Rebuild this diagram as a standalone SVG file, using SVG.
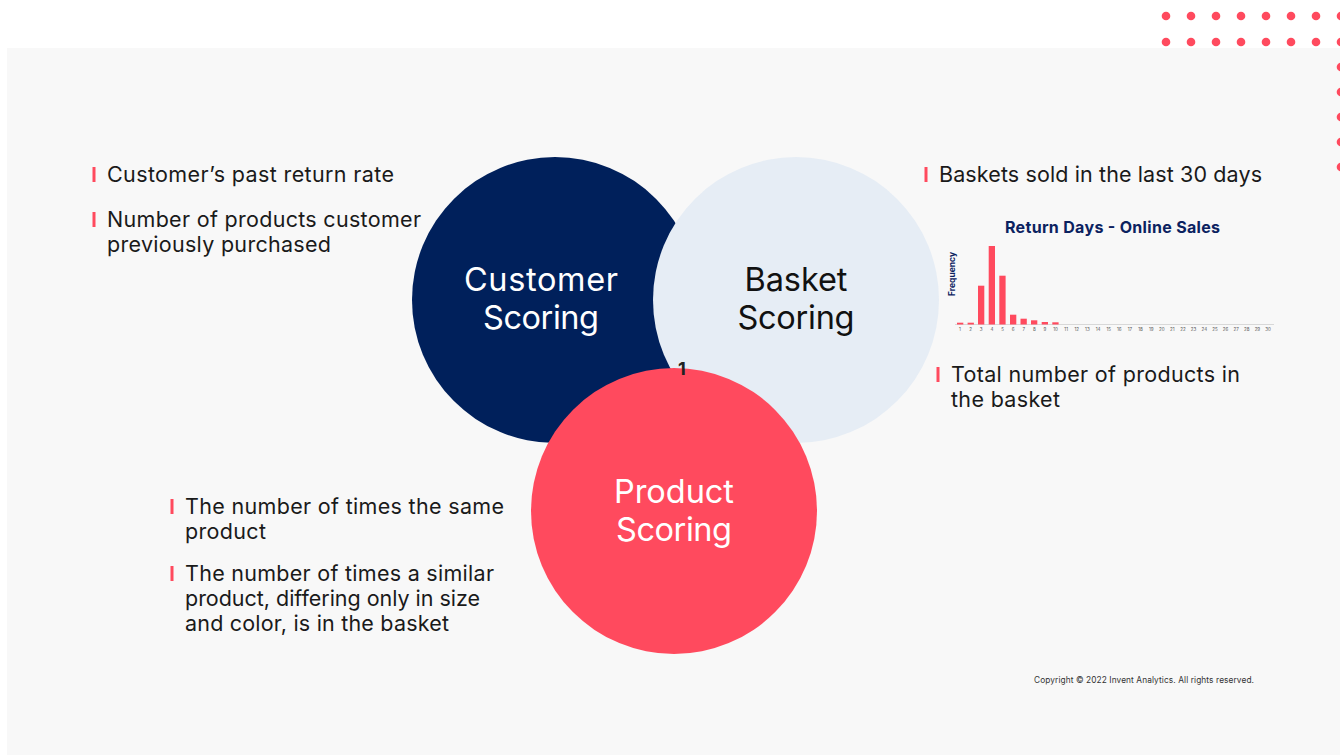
<svg xmlns="http://www.w3.org/2000/svg" width="1340" height="755" viewBox="0 0 1340 755">
<style>
.t{font-family:Inter,"Noto Sans","Liberation Sans",sans-serif;font-size:21.5px;fill:#1a1a1a}
.bar{fill:#ff4a5e}
.big{font-family:Inter,"Noto Sans","Liberation Sans",sans-serif;font-size:32.5px;text-anchor:middle}
.dot{fill:#ff4a5e}
.tick{font-family:Inter,"Liberation Sans",sans-serif;font-size:4.5px;fill:#555;text-anchor:middle}
.cb{fill:#ff4a5e}
</style>
<rect width="1340" height="755" fill="#ffffff"/>
<rect x="7" y="48" width="1333" height="707" fill="#f8f8f8"/>
<g id="dots">
<circle class="dot" cx="1166" cy="16" r="4.3"/><circle class="dot" cx="1191" cy="16" r="4.3"/><circle class="dot" cx="1216" cy="16" r="4.3"/><circle class="dot" cx="1241" cy="16" r="4.3"/><circle class="dot" cx="1266" cy="16" r="4.3"/><circle class="dot" cx="1291" cy="16" r="4.3"/><circle class="dot" cx="1316" cy="16" r="4.3"/><circle class="dot" cx="1341" cy="16" r="4.3"/>
<circle class="dot" cx="1166" cy="42" r="4.3"/><circle class="dot" cx="1191" cy="42" r="4.3"/><circle class="dot" cx="1216" cy="42" r="4.3"/><circle class="dot" cx="1241" cy="42" r="4.3"/><circle class="dot" cx="1266" cy="42" r="4.3"/><circle class="dot" cx="1291" cy="42" r="4.3"/><circle class="dot" cx="1316" cy="42" r="4.3"/><circle class="dot" cx="1341" cy="42" r="4.3"/>
<circle class="dot" cx="1341" cy="67" r="4.3"/><circle class="dot" cx="1341" cy="92" r="4.3"/><circle class="dot" cx="1341" cy="117" r="4.3"/><circle class="dot" cx="1341" cy="142" r="4.3"/><circle class="dot" cx="1341" cy="167" r="4.3"/>
</g>
<g id="customer">
<circle cx="555" cy="300" r="143" fill="#00205b"/>
<text class="big" x="541" y="291" fill="#ffffff" textLength="154">Customer</text>
<text class="big" x="541" y="329" fill="#ffffff" textLength="116">Scoring</text>
</g>
<g id="basket">
<circle cx="796" cy="300" r="143" fill="#e6edf5"/>
<text class="big" x="796" y="291" fill="#111111" textLength="103">Basket</text>
<text class="big" x="796" y="329" fill="#111111" textLength="117">Scoring</text>
</g>
<g id="product">
<circle cx="674" cy="511" r="143" fill="#ff4a5e"/>
<text class="big" x="674" y="503" fill="#ffffff" textLength="120">Product</text>
<text class="big" x="674" y="541" fill="#ffffff" textLength="116">Scoring</text>
</g>
<g id="label1">
<text x="682" y="375" font-family="Inter,'Liberation Sans',sans-serif" font-size="18" font-weight="bold" fill="#222" text-anchor="middle">1</text>
</g>
<g id="customer-notes">
<rect class="cb" x="92.5" y="167" width="3" height="15"/>
<text class="t" x="107" y="182" textLength="287">Customer’s past return rate</text>
<rect class="cb" x="92.5" y="212" width="3" height="15"/>
<text class="t" x="107" y="227" textLength="314">Number of products customer</text>
<text class="t" x="107" y="252" textLength="224">previously purchased</text>
</g>
<g id="basket-notes">
<rect class="cb" x="924.5" y="167" width="3" height="15"/>
<text class="t" x="939" y="182" textLength="323">Baskets sold in the last 30 days</text>
<rect class="cb" x="936.5" y="367" width="3" height="15"/>
<text class="t" x="951" y="382" textLength="289">Total number of products in</text>
<text class="t" x="951" y="407" textLength="109">the basket</text>
</g>
<g id="product-notes">
<rect class="cb" x="170.5" y="499" width="3" height="15"/>
<text class="t" x="185" y="514" textLength="319">The number of times the same</text>
<text class="t" x="185" y="539" textLength="81">product</text>
<rect class="cb" x="170.5" y="566" width="3" height="15"/>
<text class="t" x="185" y="581" textLength="309">The number of times a similar</text>
<text class="t" x="185" y="606" textLength="295">product, differing only in size</text>
<text class="t" x="185" y="631" textLength="264">and color, is in the basket</text>
</g>
<g id="chart">
<text x="1112.5" y="233" font-family="Inter,'Liberation Sans',sans-serif" font-size="16" font-weight="bold" fill="#0b2260" text-anchor="middle" textLength="215">Return Days - Online Sales</text>
<text transform="translate(955,274) rotate(-90)" font-family="Inter,'Liberation Sans',sans-serif" font-size="8.5" font-weight="bold" fill="#0b2260" text-anchor="middle">Frequency</text>
<line x1="955" y1="324.5" x2="1274" y2="324.5" stroke="#d8d8d8" stroke-width="1"/>
<rect class="bar" x="957" y="322.7" width="6.3" height="1.8"/>
<rect class="bar" x="967.6" y="322.7" width="6.3" height="1.8"/>
<rect class="bar" x="978" y="285.7" width="6.3" height="38.8"/>
<rect class="bar" x="988.7" y="246" width="6.3" height="78.5"/>
<rect class="bar" x="999.3" y="275.7" width="6.3" height="48.8"/>
<rect class="bar" x="1010" y="314.7" width="6.3" height="9.8"/>
<rect class="bar" x="1020.5" y="318.7" width="6.3" height="5.8"/>
<rect class="bar" x="1031" y="320.3" width="6.3" height="4.2"/>
<rect class="bar" x="1041.7" y="322" width="6.3" height="2.5"/>
<rect class="bar" x="1052.3" y="322.3" width="6.3" height="2.2"/>
<g>
<text class="tick" x="960" y="331">1</text><text class="tick" x="970.6" y="331">2</text><text class="tick" x="981.2" y="331">3</text><text class="tick" x="991.9" y="331">4</text><text class="tick" x="1002.5" y="331">5</text><text class="tick" x="1013.1" y="331">6</text><text class="tick" x="1023.7" y="331">7</text><text class="tick" x="1034.3" y="331">8</text><text class="tick" x="1045" y="331">9</text><text class="tick" x="1055.6" y="331">10</text>
<text class="tick" x="1066.2" y="331">11</text><text class="tick" x="1076.8" y="331">12</text><text class="tick" x="1087.4" y="331">13</text><text class="tick" x="1098.1" y="331">14</text><text class="tick" x="1108.7" y="331">15</text><text class="tick" x="1119.3" y="331">16</text><text class="tick" x="1129.9" y="331">17</text><text class="tick" x="1140.5" y="331">18</text><text class="tick" x="1151.2" y="331">19</text><text class="tick" x="1161.8" y="331">20</text>
<text class="tick" x="1172.4" y="331">21</text><text class="tick" x="1183" y="331">22</text><text class="tick" x="1193.6" y="331">23</text><text class="tick" x="1204.3" y="331">24</text><text class="tick" x="1214.9" y="331">25</text><text class="tick" x="1225.5" y="331">26</text><text class="tick" x="1236.1" y="331">27</text><text class="tick" x="1246.7" y="331">28</text><text class="tick" x="1257.4" y="331">29</text><text class="tick" x="1268" y="331">30</text>
</g>
</g>
<g id="copyright">
<text x="1034" y="683" font-family="Inter,'Liberation Sans',sans-serif" font-size="8.3" fill="#333" textLength="220">Copyright © 2022 Invent Analytics. All rights reserved.</text>
</g>
</svg>
